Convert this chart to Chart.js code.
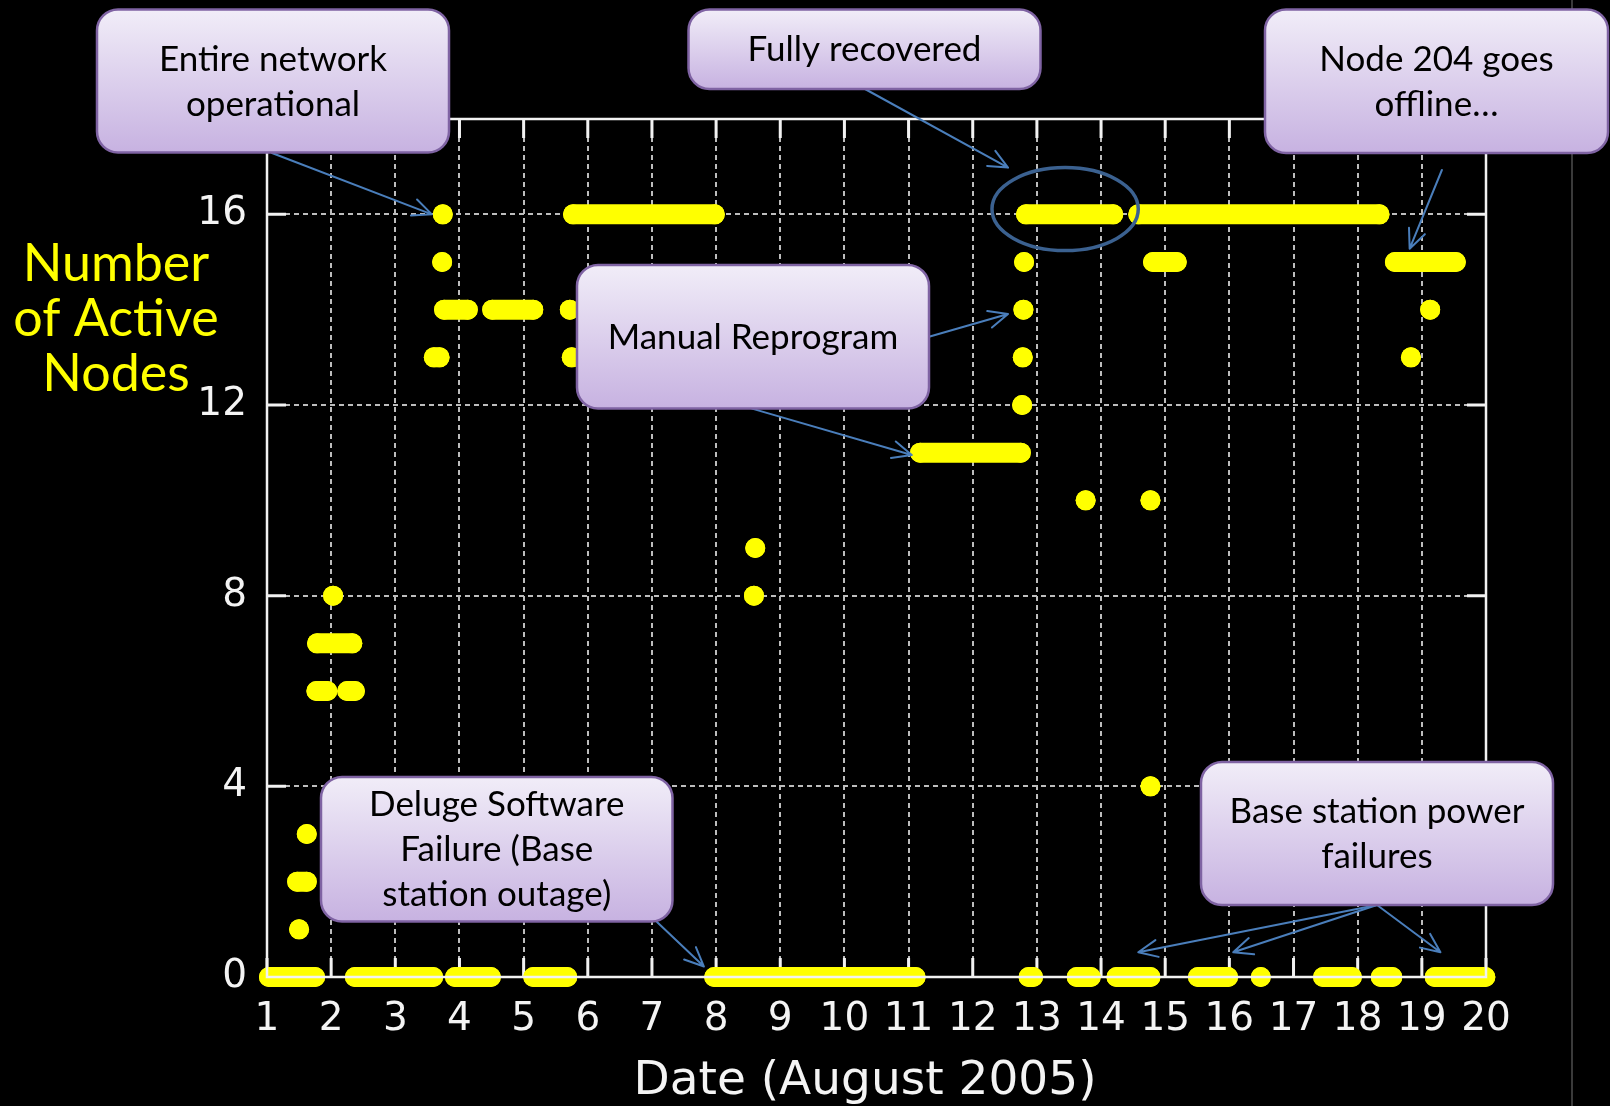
<!DOCTYPE html>
<html>
<head>
<meta charset="utf-8">
<script src="https://cdn.jsdelivr.net/npm/chart.js@4.4.0/dist/chart.umd.min.js"></script>
<style>
  html, body { margin: 0; padding: 0; background: #000; }
  #wrap { width: 1610px; height: 1106px; position: relative; }
  canvas { display: block; }
</style>
</head>
<body>
<div id="wrap"><canvas id="c" width="1610" height="1106"></canvas></div>
<script>
// ---------------- data ----------------
const dayTicks  = [1,2,3,4,5,6,7,8,9,10,11,12,13,14,15,16,17,18,19,20];
const dayLabels = ['1','2','3','4','5','6','7','8','9','10','11','12','13','14','15','16','17','18','19','20'];
const nodeTicks = [0, 4, 8, 12, 16];
const nodeLabels = ['0', '4', '8', '12', '16'];

// observed runs: number of active nodes, first day, last day (August 2005)
const runNodes = [0,0,0,0,0,0,0,0,0,0,0,0,0,
                  1, 2, 3, 4, 6,6, 7, 8,8, 9, 10,10, 11, 12,
                  13,13,13,13, 14,14,14,14,14, 15,15,15,15, 16,16,16,16];
const runStart = [1.03,2.37,3.93,5.15,7.97,12.87,13.62,14.24,15.51,16.49,17.46,18.36,19.20,
                  1.50, 1.47, 1.62, 14.77, 1.77,2.25, 1.78, 2.03,8.59, 8.61, 13.76,14.77, 11.18, 12.77,
                  3.60,5.75,12.78,18.83, 3.76,4.51,5.72,12.79,19.13, 3.73,12.80,14.81,18.58, 3.74,5.77,12.83,14.58];
const runEnd   = [1.75,3.59,4.49,5.68,11.11,12.94,13.84,14.77,15.98,16.49,17.91,18.54,19.99,
                  1.50, 1.62, 1.62, 14.77, 1.94,2.37, 2.33, 2.03,8.59, 8.61, 13.76,14.77, 12.75, 12.77,
                  3.69,5.75,12.78,18.83, 4.13,5.15,5.72,12.79,19.13, 3.73,12.80,15.18,19.53, 3.74,7.98,14.19,18.34];

// annotations
const noteText = [
  ['Entire network', 'operational'],
  ['Fully recovered'],
  ['Node 204 goes', 'offline…'],
  ['Manual Reprogram'],
  ['Deluge Software', 'Failure (Base', 'station outage)'],
  ['Base station power', 'failures']
];
// arrow targets in data units (day, nodes) and which note they start from
const arrowNote  = [0, 1, 2, 3, 3, 4, 5, 5, 5];
const arrowDay   = [3.57, 12.55, 18.81, 12.55, 11.05, 7.81, 14.58, 16.06, 19.29];
const arrowNodes = [16.0, 16.98, 15.28, 13.91, 10.95, 0.22, 0.52, 0.52, 0.52];
// highlighted region ("Fully recovered"): centre day, centre nodes, half-width days, half-height nodes
const ringDay = 13.44, ringNodes = 16.11, ringHalfDays = 1.14, ringHalfNodes = 0.87;

// ---------------- layout (pixels) ----------------
const boxes = [
  {x0: 97,   y0: 9.5, x1: 449,  y1: 152.5},
  {x0: 688.5,y0: 9.5, x1: 1040.5,y1: 89},
  {x0: 1265, y0: 9.5, x1: 1608, y1: 153},
  {x0: 577,  y0: 265, x1: 929,  y1: 408.5},
  {x0: 321,  y0: 777, x1: 672.5,y1: 921.5},
  {x0: 1201, y0: 762, x1: 1553, y1: 905}
];
const arrowFrom = [[272,153],[865,89],[1441.9,170],[929,336.7],[752,408.6],[657,922],[1377,905],[1377,905],[1377,905]];

// build the point list (null breaks a run)
const points = [];
runNodes.forEach((n, i) => {
  points.push({x: runStart[i], y: n});
  if (runEnd[i] !== runStart[i]) points.push({x: runEnd[i], y: n});
  points.push({x: runEnd[i], y: null});
});

function roundRect(ctx, x, y, w, h, r) {
  ctx.beginPath();
  ctx.moveTo(x + r, y);
  ctx.arcTo(x + w, y, x + w, y + h, r);
  ctx.arcTo(x + w, y + h, x, y + h, r);
  ctx.arcTo(x, y + h, x, y, r);
  ctx.arcTo(x, y, x + w, y, r);
  ctx.closePath();
}

function drawArrow(ctx, x0, y0, x1, y1) {
  const a = Math.atan2(y1 - y0, x1 - x0);
  const L = 21, w = 0.42;
  ctx.beginPath();
  ctx.moveTo(x0, y0); ctx.lineTo(x1, y1);
  ctx.moveTo(x1 + L * Math.cos(a + Math.PI - w), y1 + L * Math.sin(a + Math.PI - w));
  ctx.lineTo(x1, y1);
  ctx.lineTo(x1 + L * Math.cos(a + Math.PI + w), y1 + L * Math.sin(a + Math.PI + w));
  ctx.stroke();
}

const AXIS = '#f2f2f2';

const deco = {
  id: 'deco',
  beforeDatasetsDraw(chart) {
    const {ctx, chartArea: a, scales: {x, y}} = chart;
    ctx.save();
    ctx.strokeStyle = AXIS; ctx.lineWidth = 3;
    ctx.beginPath();
    dayTicks.forEach(d => {
      const px = x.getPixelForValue(d);
      ctx.moveTo(px, a.bottom); ctx.lineTo(px, a.bottom - 19);
      ctx.moveTo(px, a.top); ctx.lineTo(px, a.top + 19);
    });
    nodeTicks.forEach(n => {
      const py = y.getPixelForValue(n);
      ctx.moveTo(a.left, py); ctx.lineTo(a.left + 19, py);
      ctx.moveTo(a.right, py); ctx.lineTo(a.right - 19, py);
    });
    ctx.stroke();
    ctx.restore();
  },
  afterDatasetsDraw(chart) {
    const {ctx, chartArea: a} = chart;
    ctx.save();
    ctx.strokeStyle = AXIS; ctx.lineWidth = 2.5;
    ctx.strokeRect(a.left, a.top, a.right - a.left, a.bottom - a.top);
    ctx.restore();
  },
  afterDraw(chart) {
    const {ctx, scales: {x, y}} = chart;
    ctx.save();
    // thin frame line at right
    ctx.strokeStyle = '#3a3a3a'; ctx.lineWidth = 2;
    ctx.beginPath(); ctx.moveTo(1572, 0); ctx.lineTo(1572, 1106); ctx.stroke();

    // y title
    ctx.fillStyle = '#ffff00';
    ctx.font = '52px Lato';
    ctx.textAlign = 'center'; ctx.textBaseline = 'alphabetic';
    ['Number', 'of Active', 'Nodes'].forEach((t, i) => ctx.fillText(t, 116, 281 + i * 55));

    // x title
    ctx.fillStyle = '#f4f4f4';
    ctx.font = '47px "DejaVu Sans"';
    ctx.fillText('Date (August 2005)', 865, 1094);

    // ring
    const cx = x.getPixelForValue(ringDay), cy = y.getPixelForValue(ringNodes);
    const rx = x.getPixelForValue(ringDay + ringHalfDays) - cx;
    const ry = cy - y.getPixelForValue(ringNodes + ringHalfNodes);
    ctx.strokeStyle = '#3b6190'; ctx.lineWidth = 3.5;
    ctx.beginPath(); ctx.ellipse(cx, cy, rx, ry, 0, 0, Math.PI * 2); ctx.stroke();

    // arrows
    ctx.strokeStyle = '#4a7ebb'; ctx.lineWidth = 2; ctx.lineCap = 'round'; ctx.lineJoin = 'round';
    arrowNote.forEach((k, i) => {
      drawArrow(ctx, arrowFrom[i][0], arrowFrom[i][1],
                x.getPixelForValue(arrowDay[i]), y.getPixelForValue(arrowNodes[i]));
    });

    // callout boxes
    boxes.forEach((b, k) => {
      const g = ctx.createLinearGradient(0, b.y0, 0, b.y1);
      g.addColorStop(0, '#f1edf8');
      g.addColorStop(1, '#c7b2e1');
      roundRect(ctx, b.x0, b.y0, b.x1 - b.x0, b.y1 - b.y0, 21);
      ctx.fillStyle = g; ctx.fill();
      ctx.lineWidth = 2.5; ctx.strokeStyle = '#7f63a3'; ctx.stroke();
      const lines = noteText[k];
      const cxb = (b.x0 + b.x1) / 2, cyb = (b.y0 + b.y1) / 2;
      ctx.fillStyle = '#000';
      ctx.font = '35px Lato';
      ctx.textAlign = 'center'; ctx.textBaseline = 'alphabetic';
      lines.forEach((t, j) => {
        const lc = cyb + (j - (lines.length - 1) / 2) * 45;
        ctx.fillText(t, cxb, lc + 12);
      });
    });
    ctx.restore();
  }
};

new Chart(document.getElementById('c'), {
  type: 'scatter',
  data: {
    datasets: [{
      data: points,
      showLine: true,
      spanGaps: false,
      borderColor: '#ffff00',
      backgroundColor: '#ffff00',
      borderWidth: 20,
      borderCapStyle: 'round',
      borderJoinStyle: 'round',
      pointRadius: 10,
      pointHoverRadius: 10,
      pointBorderWidth: 0,
      tension: 0,
      clip: false
    }]
  },
  options: {
    responsive: false,
    animation: false,
    devicePixelRatio: 1,
    events: [],
    layout: { padding: { top: 119, right: 124, left: 0, bottom: 0 } },
    plugins: { legend: { display: false }, tooltip: { enabled: false } },
    scales: {
      x: {
        type: 'linear', min: 1, max: 20,
        afterBuildTicks: s => { s.ticks = dayTicks.map(v => ({ value: v })); },
        afterFit: s => { s.height = 129; },
        grid: { color: '#bdbdbd', lineWidth: 2, drawTicks: false },
        border: { display: false, dash: [5, 4] },
        ticks: {
          color: '#f4f4f4', padding: 19, maxRotation: 0, autoSkip: false,
          font: { family: 'DejaVu Sans', size: 39 },
          callback: (v, i) => dayLabels[i]
        }
      },
      y: {
        type: 'linear', min: 0, max: 18,
        afterBuildTicks: s => { s.ticks = nodeTicks.map(v => ({ value: v })); },
        afterFit: s => { s.width = 267; },
        grid: { color: '#bdbdbd', lineWidth: 2, drawTicks: false },
        border: { display: false, dash: [5, 4] },
        ticks: {
          color: '#f4f4f4', padding: 20,
          font: { family: 'DejaVu Sans', size: 39 },
          callback: (v, i) => nodeLabels[i]
        }
      }
    }
  },
  plugins: [deco]
});
</script>
</body>
</html>
